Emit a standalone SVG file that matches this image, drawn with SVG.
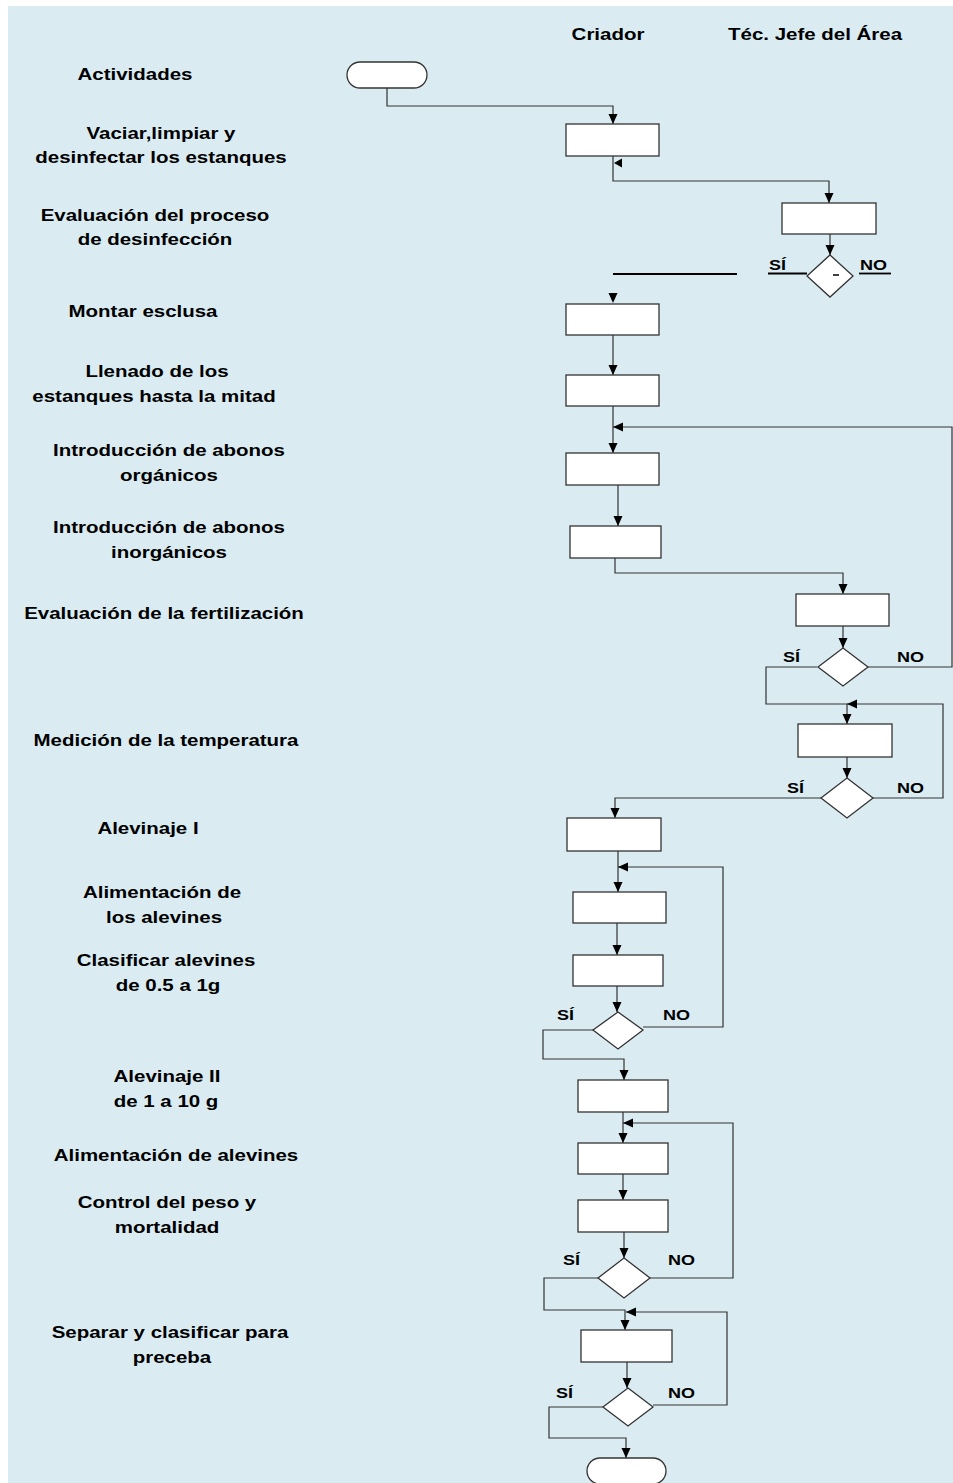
<svg xmlns="http://www.w3.org/2000/svg" width="953" height="1483" viewBox="0 0 953 1483">
<style>
.bg{fill:#DAECF2}
.n{fill:#fff;stroke:#333;stroke-width:1.3}
.c{fill:none;stroke:#333;stroke-width:1.2}
.u{fill:none;stroke:#000;stroke-width:1.8}
.t{font-family:"Liberation Sans",Arial,sans-serif;font-weight:bold;font-size:16px;fill:#000;text-anchor:middle}
.s{font-family:"Liberation Sans",Arial,sans-serif;font-weight:bold;font-size:15px;fill:#000}
.ah{fill:#000}
</style>
<defs>
<marker id="a" markerUnits="userSpaceOnUse" markerWidth="10" markerHeight="10" viewBox="0 0 10 10" refX="10" refY="5" orient="auto">
<path d="M0,0.5 L10,5 L0,9.5 Z" fill="#000"/>
</marker>
</defs>
<rect class="bg" x="8" y="6" width="945" height="1477"/>

<g id="headers">
<text class="t" transform="translate(608,40) scale(1.28,1)">Criador</text>
<text class="t" transform="translate(815,40) scale(1.28,1)">Téc. Jefe del Área</text>
</g>

<g id="activities">
<text class="t" transform="translate(135,80) scale(1.28,1)">Actividades</text>
<text class="t" transform="translate(161,139) scale(1.28,1)">Vaciar,limpiar y</text>
<text class="t" transform="translate(161,163) scale(1.28,1)">desinfectar  los estanques</text>
<text class="t" transform="translate(155,221) scale(1.28,1)">Evaluación del proceso</text>
<text class="t" transform="translate(155,245) scale(1.28,1)">de desinfección</text>
<text class="t" transform="translate(143,317) scale(1.28,1)">Montar esclusa</text>
<text class="t" transform="translate(157,377) scale(1.28,1)">Llenado de los</text>
<text class="t" transform="translate(154,402) scale(1.28,1)">estanques hasta la mitad</text>
<text class="t" transform="translate(169,456) scale(1.28,1)">Introducción de abonos</text>
<text class="t" transform="translate(169,481) scale(1.28,1)">orgánicos</text>
<text class="t" transform="translate(169,533) scale(1.28,1)">Introducción de abonos</text>
<text class="t" transform="translate(169,558) scale(1.28,1)">inorgánicos</text>
<text class="t" transform="translate(164,619) scale(1.28,1)">Evaluación de la fertilización</text>
<text class="t" transform="translate(166,746) scale(1.28,1)">Medición de la temperatura</text>
<text class="t" transform="translate(148,834) scale(1.28,1)">Alevinaje I</text>
<text class="t" transform="translate(162,898) scale(1.28,1)">Alimentación de</text>
<text class="t" transform="translate(164,923) scale(1.28,1)">los alevines</text>
<text class="t" transform="translate(166,966) scale(1.28,1)">Clasificar alevines</text>
<text class="t" transform="translate(168,991) scale(1.28,1)">de 0.5 a 1g</text>
<text class="t" transform="translate(167,1082) scale(1.28,1)">Alevinaje II</text>
<text class="t" transform="translate(166,1107) scale(1.28,1)">de 1 a 10 g</text>
<text class="t" transform="translate(176,1161) scale(1.28,1)">Alimentación de alevines</text>
<text class="t" transform="translate(167,1208) scale(1.28,1)">Control del peso y</text>
<text class="t" transform="translate(167,1233) scale(1.28,1)">mortalidad</text>
<text class="t" transform="translate(170,1338) scale(1.28,1)">Separar y clasificar para</text>
<text class="t" transform="translate(172,1363) scale(1.28,1)">preceba</text>
</g>

<g id="connectors">
<path class="c" d="M387,88 V106 H613 V124" marker-end="url(#a)"/>
<path class="c" d="M613,156 V181 H829 V203" marker-end="url(#a)"/>
<polygon class="ah" points="614,163 622,158.5 622,167.5"/>
<path class="c" d="M830,234 V255" marker-end="url(#a)"/>
<line class="u" x1="768" y1="273.5" x2="807" y2="273.5"/>
<line class="u" x1="859" y1="273.5" x2="891" y2="273.5"/>
<line class="u" x1="613" y1="274" x2="737" y2="274"/>
<polygon class="ah" points="608.5,293 617.5,293 613,303"/>
<path class="c" d="M613,335 V375" marker-end="url(#a)"/>
<path class="c" d="M613,406 V453" marker-end="url(#a)"/>
<path class="c" d="M868,667 H952 V427 H613" marker-end="url(#a)"/>
<path class="c" d="M618,485 V526" marker-end="url(#a)"/>
<path class="c" d="M615,558 V573 H843 V594" marker-end="url(#a)"/>
<path class="c" d="M843,626 V648" marker-end="url(#a)"/>
<path class="c" d="M817,667 H766 V704 H847 V724" marker-end="url(#a)"/>
<path class="c" d="M873,798 H943 V704 H847" marker-end="url(#a)"/>
<path class="c" d="M847,757 V778" marker-end="url(#a)"/>
<path class="c" d="M821,798 H615 V818" marker-end="url(#a)"/>
<path class="c" d="M618,851 V892" marker-end="url(#a)"/>
<path class="c" d="M643,1027 H723 V867 H618" marker-end="url(#a)"/>
<path class="c" d="M617,923 V955" marker-end="url(#a)"/>
<path class="c" d="M617,986 V1012" marker-end="url(#a)"/>
<path class="c" d="M593,1030 H543 V1059 H624 V1080" marker-end="url(#a)"/>
<path class="c" d="M623,1112 V1143" marker-end="url(#a)"/>
<path class="c" d="M650,1278 H733 V1123 H623" marker-end="url(#a)"/>
<path class="c" d="M623,1174 V1200" marker-end="url(#a)"/>
<path class="c" d="M624,1232 V1258" marker-end="url(#a)"/>
<path class="c" d="M598,1278 H544 V1310 H625 V1330" marker-end="url(#a)"/>
<path class="c" d="M653,1405 H727 V1312 H626" marker-end="url(#a)"/>
<path class="c" d="M627,1362 V1388" marker-end="url(#a)"/>
<path class="c" d="M603,1407 H549 V1438 H626 V1458" marker-end="url(#a)"/>
</g>

<g id="start"><rect class="n" x="347" y="62" width="80" height="26" rx="13"/></g>
<g id="box1"><rect class="n" x="566" y="124" width="93" height="32"/></g>
<g id="box2"><rect class="n" x="782" y="203" width="94" height="31"/></g>
<g id="d1"><polygon class="n" points="830,255 853,276 830,297 807,276"/><line x1="833" y1="275" x2="839" y2="275" stroke="#000" stroke-width="1.5"/>
<text class="s" transform="translate(769,270) scale(1.2,1)">SÍ</text><text class="s" transform="translate(860,270) scale(1.2,1)">NO</text></g>
<g id="box3"><rect class="n" x="566" y="304" width="93" height="31"/></g>
<g id="box4"><rect class="n" x="566" y="375" width="93" height="31"/></g>
<g id="box5"><rect class="n" x="566" y="453" width="93" height="32"/></g>
<g id="box6"><rect class="n" x="570" y="526" width="91" height="32"/></g>
<g id="box7"><rect class="n" x="796" y="594" width="93" height="32"/></g>
<g id="d2"><polygon class="n" points="843,648 868,667 843,686 818,667"/>
<text class="s" transform="translate(783,662) scale(1.2,1)">SÍ</text><text class="s" transform="translate(897,662) scale(1.2,1)">NO</text></g>
<g id="box8"><rect class="n" x="798" y="724" width="94" height="33"/></g>
<g id="d3"><polygon class="n" points="847,778 873,798 847,818 821,798"/>
<text class="s" transform="translate(787,793) scale(1.2,1)">SÍ</text><text class="s" transform="translate(897,793) scale(1.2,1)">NO</text></g>
<g id="box9"><rect class="n" x="567" y="818" width="94" height="33"/></g>
<g id="box10"><rect class="n" x="573" y="892" width="93" height="31"/></g>
<g id="box11"><rect class="n" x="573" y="955" width="90" height="31"/></g>
<g id="d4"><polygon class="n" points="618,1012 643,1030 618,1049 593,1030"/>
<text class="s" transform="translate(557,1020) scale(1.2,1)">SÍ</text><text class="s" transform="translate(663,1020) scale(1.2,1)">NO</text></g>
<g id="box12"><rect class="n" x="578" y="1080" width="90" height="32"/></g>
<g id="box13"><rect class="n" x="578" y="1143" width="90" height="31"/></g>
<g id="box14"><rect class="n" x="578" y="1200" width="90" height="32"/></g>
<g id="d5"><polygon class="n" points="624,1258 650,1278 624,1298 598,1278"/>
<text class="s" transform="translate(563,1265) scale(1.2,1)">SÍ</text><text class="s" transform="translate(668,1265) scale(1.2,1)">NO</text></g>
<g id="box15"><rect class="n" x="581" y="1330" width="91" height="32"/></g>
<g id="d6"><polygon class="n" points="628,1388 653,1407 628,1426 603,1407"/>
<text class="s" transform="translate(556,1398) scale(1.2,1)">SÍ</text><text class="s" transform="translate(668,1398) scale(1.2,1)">NO</text></g>
<g id="end"><rect class="n" x="587" y="1458" width="79" height="26" rx="13"/></g>
</svg>
